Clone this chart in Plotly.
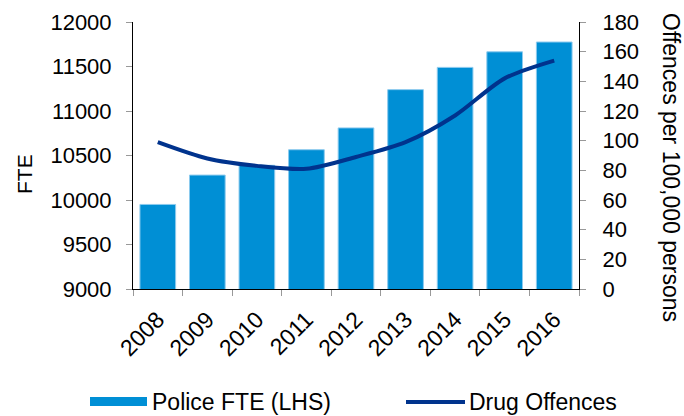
import plotly.graph_objects as go

# Police staffing (FTE, left axis) and drug offence rate (right axis)
years = ["2008", "2009", "2010", "2011", "2012", "2013", "2014", "2015", "2016"]
police_fte = [9950, 10280, 10390, 10565, 10810, 11240, 11490, 11665, 11775]
drug_offences = [99, 88, 83, 81, 89, 99, 117, 142, 154]

fte_ticks = [9000, 9500, 10000, 10500, 11000, 11500, 12000]
rate_ticks = [0, 20, 40, 60, 80, 100, 120, 140, 160, 180]

BAR_COLOR = "#008FD5"
BAR_EDGE = "#8CCAEE"
LINE_COLOR = "#00338D"
FONT = "Liberation Sans, Arial, sans-serif"

W, H = 684, 416
ML, MR, MT, MB = 133, 105, 22, 127
PW, PH = W - ML - MR, H - MT - MB


def px_x(x):
    return (x - ML) / PW


def px_y(y):
    return (H - MB - y) / PH


fig = go.Figure()
fig.add_trace(go.Bar(
    x=years, y=police_fte, name="Police FTE (LHS)",
    marker=dict(color=BAR_COLOR, line=dict(color=BAR_EDGE, width=1)),
    yaxis="y", showlegend=False,
))
fig.add_trace(go.Scatter(
    x=years, y=drug_offences, name="Drug Offences", mode="lines",
    line=dict(color=LINE_COLOR, width=4, shape="spline", smoothing=0.8),
    yaxis="y2", showlegend=False,
))

axis_common = dict(
    showgrid=False, zeroline=False, showline=True, linecolor="black", linewidth=1,
    ticks="outside", ticklen=6, tickcolor="#999999", tickwidth=1,
    tickfont=dict(family=FONT, size=22, color="black"),
)

fig.update_layout(
    width=W, height=H,
    margin=dict(l=ML, r=MR, t=MT, b=MB, autoexpand=False),
    paper_bgcolor="white", plot_bgcolor="white",
    font=dict(family=FONT, color="black"),
    bargap=0.28,
    showlegend=False,
    xaxis=dict(
        **{**axis_common, "tickfont": dict(family=FONT, size=23, color="black")},
        type="category", tickson="boundaries",
        tickangle=-45, ticklabelstandoff=7,
    ),
    yaxis=dict(
        **axis_common, range=[9000, 12000], tickvals=fte_ticks,
        ticktext=[str(v) for v in fte_ticks],
        ticklabelstandoff=10,
    ),
    yaxis2=dict(
        **axis_common, range=[0, 180], tickvals=rate_ticks,
        ticktext=[str(v) for v in rate_ticks],
        overlaying="y", side="right", ticklabelstandoff=12,
    ),
)

# Left axis title
fig.add_annotation(
    text="FTE", textangle=-90,
    xref="paper", yref="paper", x=px_x(24), y=px_y(174),
    xanchor="center", yanchor="middle", showarrow=False,
    font=dict(family=FONT, size=21, color="black"),
)

# Right-hand axis title, reading top to bottom
fig.add_annotation(
    text="Offences per 100,000 persons", textangle=90,
    xref="paper", yref="paper", x=px_x(671), y=px_y(167),
    xanchor="center", yanchor="middle", showarrow=False,
    font=dict(family=FONT, size=23, color="black"),
)

# Legend row beneath the chart
fig.add_shape(type="rect", xref="paper", yref="paper",
              x0=px_x(90), x1=px_x(147), y0=px_y(397), y1=px_y(406),
              fillcolor=BAR_COLOR, line=dict(width=0))
fig.add_annotation(text="Police FTE (LHS)", xref="paper", yref="paper",
                   x=px_x(150), y=px_y(402), xanchor="left", yanchor="middle",
                   showarrow=False, font=dict(family=FONT, size=23, color="black"))
fig.add_shape(type="line", xref="paper", yref="paper",
              x0=px_x(406), x1=px_x(465), y0=px_y(402), y1=px_y(402),
              line=dict(color=LINE_COLOR, width=4))
fig.add_annotation(text="Drug Offences", xref="paper", yref="paper",
                   x=px_x(467), y=px_y(402), xanchor="left", yanchor="middle",
                   showarrow=False, font=dict(family=FONT, size=23, color="black"))

fig.write_html("out.html")
